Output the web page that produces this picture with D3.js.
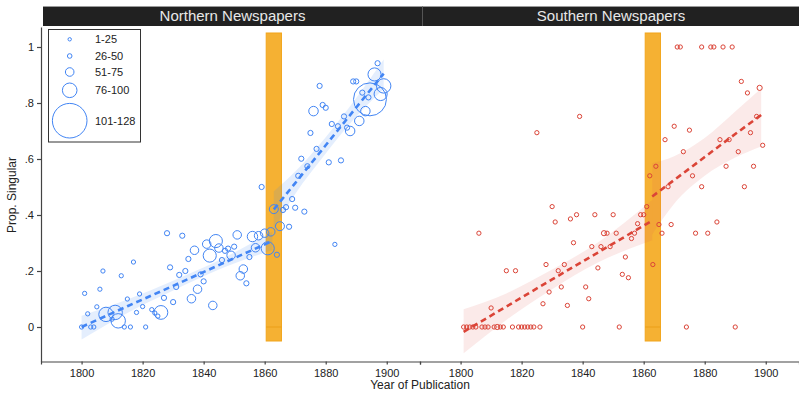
<!DOCTYPE html>
<html>
<head>
<meta charset="utf-8">
<script src="https://cdnjs.cloudflare.com/ajax/libs/d3/7.8.5/d3.min.js"></script>
<style>
body { margin: 0; background: #fff; }
svg { display: block; font-family: "Liberation Sans", Arial, sans-serif; }
</style>
</head>
<body>
<div class="chart-container"></div>
<script>
const yearTicks = [1800, 1820, 1840, 1860, 1880, 1900];
const propTicks = [0, 0.2, 0.4, 0.6, 0.8, 1];
const propTickLabels = ["0", ".2", ".4", ".6", ".8", "1"];
const panelTitles = ["Northern Newspapers", "Southern Newspapers"];
const sizeBins = ["1-25", "26-50", "51-75", "76-100", "101-128"];
const warYears = [1860.5, 1865.5];

// [year, proportion singular, number of articles]
const northPoints = [
  [1800, 0.00, 2], [1801, 0.12, 2], [1802, 0.047, 2], [1803, 0.00, 2], [1804, 0.00, 2],
  [1805, 0.072, 2], [1806, 0.135, 2], [1807, 0.20, 2], [1808, 0.045, 23], [1810, 0.028, 2],
  [1811, 0.052, 23], [1812, 0.022, 23], [1813, 0.183, 2], [1814, 0.00, 2], [1815, 0.10, 2],
  [1816, 0.00, 2], [1817, 0.232, 2], [1818, 0.052, 2], [1819, 0.118, 2], [1820, 0.073, 2],
  [1821, 0.00, 2], [1823, 0.062, 2], [1824, 0.05, 2], [1825, 0.039, 2], [1826, 0.052, 21],
  [1827, 0.104, 3], [1828, 0.335, 3], [1829, 0.213, 3], [1830, 0.089, 3], [1831, 0.143, 3],
  [1832, 0.186, 3], [1833, 0.326, 3], [1834, 0.20, 3], [1835, 0.243, 3], [1836, 0.101, 8],
  [1837, 0.274, 8], [1838, 0.135, 8], [1839, 0.188, 3], [1840, 0.163, 3], [1841, 0.296, 8],
  [1842, 0.255, 19], [1843, 0.077, 8], [1844, 0.307, 19], [1845, 0.282, 8], [1846, 0.239, 3],
  [1847, 0.272, 3], [1848, 0.28, 3], [1849, 0.256, 8], [1850, 0.287, 3], [1851, 0.329, 8],
  [1852, 0.183, 8], [1853, 0.207, 8], [1854, 0.156, 3], [1855, 0.25, 3], [1856, 0.323, 12],
  [1857, 0.283, 8], [1858, 0.326, 8], [1859, 0.50, 3], [1860, 0.335, 8], [1861, 0.281, 19],
  [1862, 0.34, 8], [1863, 0.421, 9], [1864, 0.258, 3], [1865, 0.36, 9], [1866, 0.418, 3],
  [1867, 0.428, 3], [1868, 0.358, 3], [1869, 0.457, 3], [1870, 0.426, 3], [1871, 0.54, 3],
  [1872, 0.601, 3], [1873, 0.412, 3], [1874, 0.574, 3], [1875, 0.693, 3], [1876, 0.771, 10],
  [1877, 0.636, 3], [1878, 0.861, 3], [1879, 0.793, 3], [1880, 0.783, 3], [1881, 0.588, 3],
  [1882, 0.725, 3], [1883, 0.295, 2], [1884, 0.717, 3], [1885, 0.595, 3], [1886, 0.752, 3],
  [1887, 0.712, 3], [1888, 0.70, 10], [1889, 0.877, 3], [1890, 0.877, 3], [1891, 0.736, 10],
  [1892, 0.837, 3], [1893, 0.771, 10], [1894, 0.82, 3], [1894.5, 0.813, 120], [1896, 0.902, 19],
  [1897, 0.942, 3], [1898, 0.832, 19], [1899, 0.861, 23]
];

const southPoints = [
  [1801, 0, 2], [1802, 0, 2], [1803, 0, 2], [1804, 0, 2], [1805, 0, 2], [1806, 0.335, 2],
  [1807, 0, 2], [1808, 0, 2], [1809, 0, 2], [1810, 0.068, 2], [1811, 0, 2], [1812, 0, 3],
  [1813, 0, 2], [1814, 0, 2], [1815, 0.201, 2], [1817, 0, 2], [1818, 0.201, 2], [1819, 0, 2],
  [1820, 0, 2], [1821, 0, 2], [1822, 0, 2], [1823, 0, 2], [1824, 0, 2], [1825, 0.694, 2],
  [1826, 0, 2], [1827, 0.083, 2], [1828, 0.223, 2], [1829, 0.125, 2], [1830, 0.43, 2],
  [1831, 0.375, 2], [1832, 0.201, 2], [1833, 0.143, 2], [1834, 0.223, 2], [1835, 0.077, 2],
  [1836, 0.386, 2], [1837, 0.301, 2], [1838, 0.401, 2], [1839, 0.752, 2], [1840, 0, 2],
  [1841, 0.143, 2], [1842, 0.101, 2], [1843, 0.287, 2], [1844, 0.401, 2], [1845, 0.211, 2],
  [1846, 0.287, 2], [1847, 0.335, 3], [1848, 0.335, 2], [1849, 0.287, 2], [1850, 0.401, 2],
  [1851, 0.335, 2], [1852, 0, 2], [1853, 0.188, 2], [1854, 0.25, 2], [1855, 0.176, 2],
  [1856, 0.316, 2], [1857, 0.335, 2], [1858, 0.369, 2], [1859, 0.401, 2], [1860, 0.401, 2],
  [1861, 0.43, 2], [1862, 0.54, 2], [1863, 0.223, 2], [1864, 0.574, 2], [1865, 0.366, 2],
  [1866, 0.335, 2], [1867, 0.669, 2], [1868, 0.501, 2], [1869, 0.366, 2], [1870, 0.717, 2],
  [1871, 1, 2], [1872, 1, 2], [1873, 0.626, 2], [1874, 0, 2], [1875, 0.703, 2],
  [1876, 0.54, 2], [1877, 0.335, 2], [1879, 1, 2], [1879, 0.501, 2], [1881, 0.335, 2],
  [1882, 1, 2], [1883, 1, 2], [1884, 0.375, 2], [1885, 0.669, 2], [1886, 1, 2],
  [1887, 0.574, 2], [1888, 0.669, 2], [1889, 1, 2], [1890, 0, 2], [1891, 0.626, 2],
  [1892, 0.877, 2], [1893, 0.501, 2], [1894, 0.836, 2], [1895, 0.694, 2], [1896, 0.574, 2],
  [1897, 0.752, 2], [1898, 0.854, 3], [1899, 0.649, 2]
];

// fitted line and 95% band, before and after 1863: [year, fit, lower, upper]
const northFitPre = [
  [1800, 0.0, -0.045, 0.04], [1815, 0.074, 0.05, 0.098], [1830, 0.147, 0.13, 0.165],
  [1845, 0.221, 0.205, 0.238], [1862.5, 0.307, 0.275, 0.34]
];
const northFitPost = [
  [1863, 0.42, 0.35, 0.485], [1870, 0.514, 0.475, 0.555], [1880, 0.649, 0.62, 0.678],
  [1890, 0.784, 0.752, 0.818], [1899, 0.905, 0.85, 0.955]
];
const southFitPre = [
  [1801, -0.017, -0.094, 0.063], [1815, 0.073, 0.025, 0.12], [1830, 0.17, 0.135, 0.205],
  [1845, 0.266, 0.23, 0.302], [1862.8, 0.38, 0.31, 0.454]
];
const southFitPost = [
  [1862.8, 0.466, 0.33, 0.585], [1870, 0.525, 0.44, 0.61], [1880, 0.607, 0.54, 0.675],
  [1890, 0.689, 0.605, 0.77], [1898.5, 0.757, 0.645, 0.852]
];

const W = 799, H = 393;
const panelLeft = [41, 420];
const panelWidth = 379;
const yTop = 27, yBottom = 361.5;

const svg = d3.select(".chart-container")
  .append("svg")
  .attr("width", W)
  .attr("height", H);

const y = d3.scaleLinear()
  .domain([-0.1232, 1.0714])
  .range([yBottom, yTop]);

const r = d3.scaleSqrt()
  .domain([0, 128])
  .range([0, 17]);

const panels = [
  {title: panelTitles[0], points: northPoints, fits: [northFitPre, northFitPost], color: "#4285f4", band: "#4285f4", bandOpacity: 0.14},
  {title: panelTitles[1], points: southPoints, fits: [southFitPre, southFitPost], color: "#db4437", band: "#e06055", bandOpacity: 0.13}
];

// strip headers
svg.append("rect")
  .attr("x", 43).attr("y", 6.5)
  .attr("width", W - 43).attr("height", 19.5)
  .attr("fill", "#212121");
svg.append("line")
  .attr("x1", 43).attr("x2", W).attr("y1", 6.5).attr("y2", 6.5)
  .attr("stroke", "#9a9a9a");
svg.append("line")
  .attr("x1", 422.5).attr("x2", 422.5).attr("y1", 6.5).attr("y2", 26)
  .attr("stroke", "#555");

panels.forEach((p, i) => {
  const x0 = panelLeft[i];
  const x = d3.scaleLinear()
    .domain([1786.7, 1910.9])
    .range([x0, x0 + panelWidth]);

  const g = svg.append("g").classed("panel", true);

  svg.append("text")
    .attr("x", i === 0 ? 232.5 : 611)
    .attr("y", 21)
    .attr("text-anchor", "middle")
    .attr("font-size", 15)
    .attr("fill", "#e8e8e8")
    .text(p.title);

  // civil war band
  g.append("rect")
    .attr("x", x(warYears[0]))
    .attr("y", y(1.05))
    .attr("width", x(warYears[1]) - x(warYears[0]))
    .attr("height", y(-0.05) - y(1.05))
    .attr("fill", "#f5b133")
    .attr("stroke", "#f2a51c")
    .attr("stroke-width", 1);
  g.append("line")
    .attr("x1", x(warYears[0])).attr("x2", x(warYears[1]))
    .attr("y1", y(0)).attr("y2", y(0))
    .attr("stroke", "#eb9f18")
    .attr("stroke-width", 1);

  const area = d3.area()
    .x(d => x(d[0]))
    .y0(d => y(d[2]))
    .y1(d => y(d[3]))
    .curve(d3.curveMonotoneX);

  const line = d3.line()
    .x(d => x(d[0]))
    .y(d => y(d[1]));

  p.fits.forEach(f => {
    g.append("path")
      .datum(f)
      .attr("d", area)
      .attr("fill", p.band)
      .attr("fill-opacity", p.bandOpacity);
  });

  p.fits.forEach(f => {
    g.append("path")
      .datum(f)
      .attr("d", line)
      .attr("fill", "none")
      .attr("stroke", p.color)
      .attr("stroke-width", 2.6)
      .attr("stroke-dasharray", "6,4");
  });

  g.selectAll("circle.pt")
    .data(p.points.slice().sort((a, b) => b[2] - a[2]))
    .enter()
    .append("circle")
    .classed("pt", true)
    .attr("cx", d => x(d[0]))
    .attr("cy", d => y(d[1]))
    .attr("r", d => r(d[2]))
    .attr("fill", "none")
    .attr("stroke", p.color)
    .attr("stroke-width", 1);

  const xAxis = svg.append("g")
    .attr("transform", "translate(0," + yBottom + ")")
    .call(d3.axisBottom(x).tickValues(yearTicks).tickFormat(d3.format("d")).tickSize(3).tickSizeOuter(3).tickPadding(5));
  xAxis.selectAll("path, line").attr("stroke", "#444").attr("stroke-width", 1.2);
  xAxis.selectAll("text").attr("font-size", 11).attr("fill", "#222").attr("font-family", "Liberation Sans, Arial, sans-serif");
});

const yAxis = svg.append("g")
  .attr("transform", "translate(" + panelLeft[0] + ",0)")
  .call(d3.axisLeft(y).tickValues(propTicks).tickFormat((d, i) => propTickLabels[i]).tickSize(4).tickSizeOuter(0).tickPadding(3));
yAxis.selectAll("path, line").attr("stroke", "#444").attr("stroke-width", 1.2);
yAxis.selectAll("text").attr("font-size", 11).attr("fill", "#222").attr("font-family", "Liberation Sans, Arial, sans-serif");

svg.append("text")
  .attr("transform", "translate(16,195) rotate(-90)")
  .attr("text-anchor", "middle")
  .attr("font-size", 12)
  .attr("fill", "#222")
  .text("Prop. Singular");

svg.append("text")
  .attr("x", 420)
  .attr("y", 389)
  .attr("text-anchor", "middle")
  .attr("font-size", 12)
  .attr("fill", "#222")
  .text("Year of Publication");

// size legend
const legendRadii = [1.7, 2.3, 4.3, 7.3, 17.3];
const legendRows = [39.3, 56, 72, 90.3, 120.7];
const legend = svg.append("g").classed("legend", true);
legend.append("rect")
  .attr("x", 48.5).attr("y", 29.5)
  .attr("width", 92).attr("height", 112.5)
  .attr("fill", "#fff")
  .attr("stroke", "#333")
  .attr("stroke-width", 1);
const legendItems = legend.selectAll("g.item")
  .data(sizeBins)
  .enter()
  .append("g")
  .classed("item", true)
  .attr("transform", (d, i) => "translate(0," + legendRows[i] + ")");
legendItems.append("circle")
  .attr("cx", 69.7)
  .attr("r", (d, i) => legendRadii[i])
  .attr("fill", "none")
  .attr("stroke", "#4285f4")
  .attr("stroke-width", 1);
legendItems.append("text")
  .attr("x", 95)
  .attr("dy", "0.35em")
  .attr("font-size", 11)
  .attr("fill", "#222")
  .text(d => d);
</script>
</body>
</html>
